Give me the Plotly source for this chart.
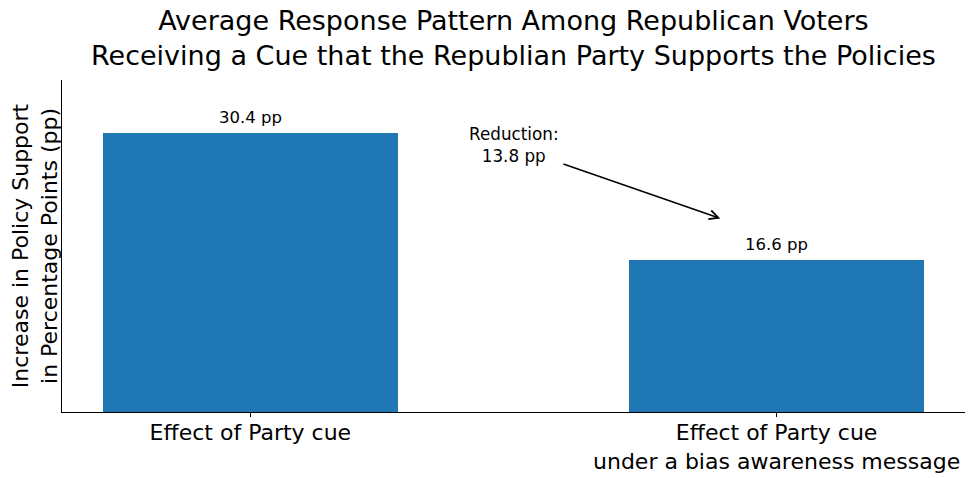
import plotly.graph_objects as go

categories = ["Effect of Party cue", "Effect of Party cue<br>under a bias awareness message"]
values = [30.4, 16.6]
bar_labels = ["30.4 pp", "16.6 pp"]
reduction_text = "Reduction:<br>13.8 pp"
arrow_tail = (0.592, 27.1)
arrow_head = (0.893, 21.1)
text_pos = (0.5, 29.1)
title_text = ("Average Response Pattern Among Republican Voters<br>"
              "Receiving a Cue that the Republian Party Supports the Policies")

FONT = "DejaVu Sans"
x_idx = [0, 1]

fig = go.Figure()
fig.add_trace(go.Bar(
    x=x_idx, y=values, width=0.56,
    marker=dict(color="#1f77b4", line=dict(width=0)),
    hoverinfo="skip",
))

for xi, v, lab in zip(x_idx, values, bar_labels):
    fig.add_annotation(x=xi, y=v, text=lab, showarrow=False, yanchor="bottom",
                       yshift=4, font=dict(family=FONT, size=16.5, color="black"))

fig.add_annotation(x=arrow_head[0], y=arrow_head[1], ax=arrow_tail[0], ay=arrow_tail[1],
                   axref="x", ayref="y", xref="x", yref="y", text="",
                   showarrow=True, arrowhead=5, arrowsize=1.2, arrowwidth=1.5, arrowcolor="black")
fig.add_annotation(x=text_pos[0], y=text_pos[1], text=reduction_text, showarrow=False,
                   font=dict(family=FONT, size=16.8, color="black"), align="center")

fig.add_annotation(x=0.5, y=1, xref="paper", yref="paper", yanchor="bottom", yshift=7,
                   text=title_text, showarrow=False, align="center",
                   font=dict(family=FONT, size=27, color="black"))

# page body has an 8px margin, so the figure is offset by 8px right and down
fig.update_layout(
    width=967, height=470,
    margin=dict(l=54, r=10, t=72, b=66),
    plot_bgcolor="white", paper_bgcolor="white",
    showlegend=False, bargap=0,
    font=dict(family=FONT, color="black"),
)
fig.update_xaxes(range=[-0.358, 1.358], tickvals=x_idx, ticktext=categories,
                 showline=True, linecolor="black", linewidth=1, automargin=False,
                 ticks="outside", ticklen=4, tickcolor="black", ticklabelstandoff=-3,
                 tickfont=dict(family=FONT, size=22, color="black"), showgrid=False, zeroline=False)
fig.update_yaxes(range=[0, 36.2], showticklabels=False, ticks="", automargin=False,
                 showline=True, linecolor="black", linewidth=1, showgrid=False, zeroline=False,
                 title=dict(text="Increase in Policy Support<br>in Percentage Points (pp)",
                            font=dict(family=FONT, size=22, color="black"), standoff=0))

fig.write_html("out.html")
